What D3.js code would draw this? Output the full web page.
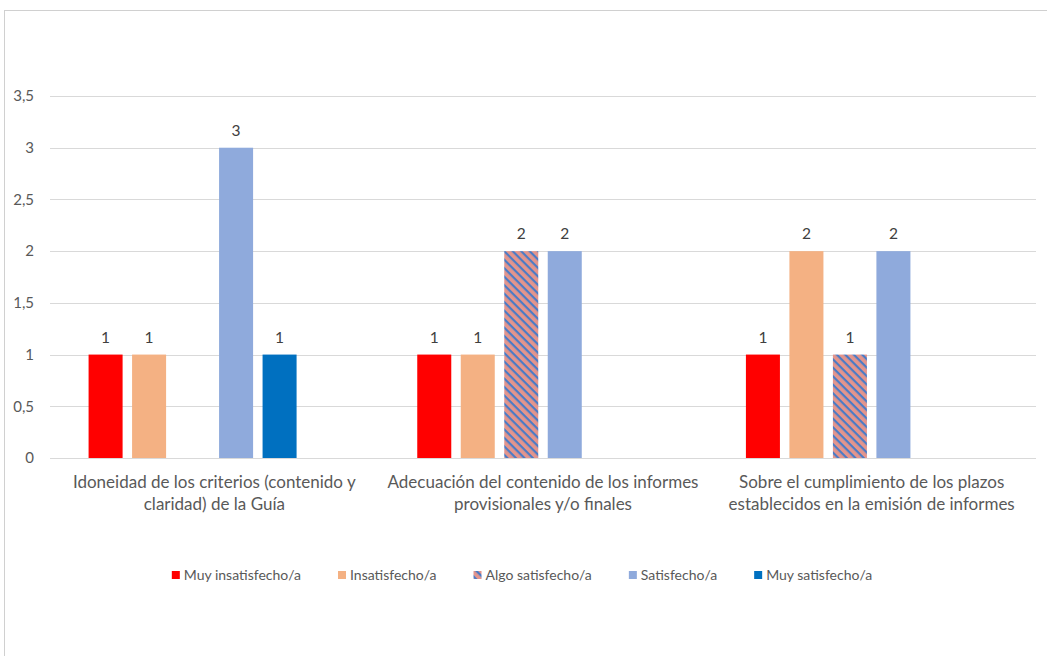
<!DOCTYPE html>
<html><head><meta charset="utf-8">
<script src="https://cdn.jsdelivr.net/npm/d3@7"></script>
<style>body{margin:0;background:#fff}svg{display:block}text{font-family:Lato,"Open Sans",sans-serif}</style>
</head><body><svg id="c" width="1047" height="656"></svg>
<script>
const categories = [
  ["Idoneidad de los criterios (contenido y", "claridad) de la Guía"],
  ["Adecuación del contenido de los informes", "provisionales y/o finales"],
  ["Sobre el cumplimiento de los plazos", "establecidos en la emisión de informes"]
];
const seriesNames = ["Muy insatisfecho/a","Insatisfecho/a","Algo satisfecho/a","Satisfecho/a","Muy satisfecho/a"];
const slotKeys = ["s0","s1","s2","s3","s4","s5"]; // six slots, last empty
const muyInsatisfecho = [1,1,1];
const insatisfecho = [1,1,2];
const algoSatisfecho = [null,2,1];
const satisfecho = [3,2,2];
const muySatisfecho = [1,null,null];
const seriesValues = [muyInsatisfecho, insatisfecho, algoSatisfecho, satisfecho, muySatisfecho];
const yTicks = [0,0.5,1,1.5,2,2.5,3,3.5];
const colors = ["#FF0000","#F4B183","url(#hatch)","#8FAADC","#0070C0"];

const svg = d3.select("#c");
const defs = svg.append("defs");
const pat = defs.append("pattern").attr("id","hatch").attr("patternUnits","userSpaceOnUse")
  .attr("width",6).attr("height",6).attr("patternTransform","rotate(45)");
pat.append("rect").attr("width",6).attr("height",6).attr("fill","#E4958C");
pat.append("rect").attr("x",0).attr("y",0).attr("width",6).attr("height",2.2).attr("fill","#4A7BC6");

svg.append("rect").attr("x",4.5).attr("y",10.5).attr("width",1100).attr("height",700)
  .attr("fill","none").attr("stroke","#D0D0D0");

const x0 = d3.scaleBand().domain(d3.range(categories.length)).range([50,1036]);
const x1 = d3.scaleBand().domain(slotKeys).range([0,x0.bandwidth()]).paddingInner(0.218).paddingOuter(0.887);
const y = d3.scaleLinear().domain([0,3.5]).range([458,96]);

// grid
svg.append("g").selectAll("line").data(yTicks).join("line")
  .attr("x1",50).attr("x2",1036).attr("y1",d=>Math.round(y(d))+0.5).attr("y2",d=>Math.round(y(d))+0.5)
  .attr("stroke","#D9D9D9").attr("stroke-width",1);

// y axis labels
const fmt = d => String(d).replace(".",",");
svg.append("g").selectAll("text").data(yTicks).join("text")
  .attr("x",34).attr("y",d=>y(d)).attr("dy","0.35em").attr("text-anchor","end")
  .attr("font-size",15).attr("fill","#595959").text(fmt);

// bars
seriesValues.forEach((vals,si)=>{
  const g = svg.append("g");
  const data = vals.map((v,ci)=>({v,ci})).filter(d=>d.v!=null);
  g.selectAll("rect").data(data).join("rect")
    .attr("x",d=>x0(d.ci)+x1(slotKeys[si])).attr("width",x1.bandwidth())
    .attr("y",d=>y(d.v)).attr("height",d=>y(0)-y(d.v))
    .attr("fill",colors[si]);
  g.selectAll("text").data(data).join("text")
    .attr("x",d=>x0(d.ci)+x1(slotKeys[si])+x1.bandwidth()/2).attr("y",d=>y(d.v)-12)
    .attr("text-anchor","middle").attr("font-size",15.5).attr("fill","#404040").text(d=>d.v);
});

// category labels
const cg = svg.append("g").selectAll("text").data(categories).join("text")
  .attr("text-anchor","middle").attr("font-size",17).attr("fill","#595959")
  .attr("transform",(d,i)=>`translate(${x0(i)+x0.bandwidth()/2},0)`);
cg.selectAll("tspan").data(d=>d).join("tspan").attr("x",0).attr("y",(d,i)=>488+i*22).text(d=>d);

// legend
const leg = svg.append("g");
const items = leg.selectAll("g").data(seriesNames).join("g");
items.append("rect").attr("width",8).attr("height",8).attr("y",-4).attr("fill",(d,i)=>colors[i]);
items.append("text").attr("x",12).attr("dy","0.35em").attr("font-size",14).attr("fill","#595959").text(d=>d);
const gap = 37; const ws=[];
items.each(function(){ ws.push(this.getBBox().width); });
const total = d3.sum(ws)+gap*(ws.length-1);
let start = 522 - total/2;
items.attr("transform",(d,i)=>{ const t=`translate(${start},575)`; start += ws[i]+gap; return t; });
</script></body></html>
